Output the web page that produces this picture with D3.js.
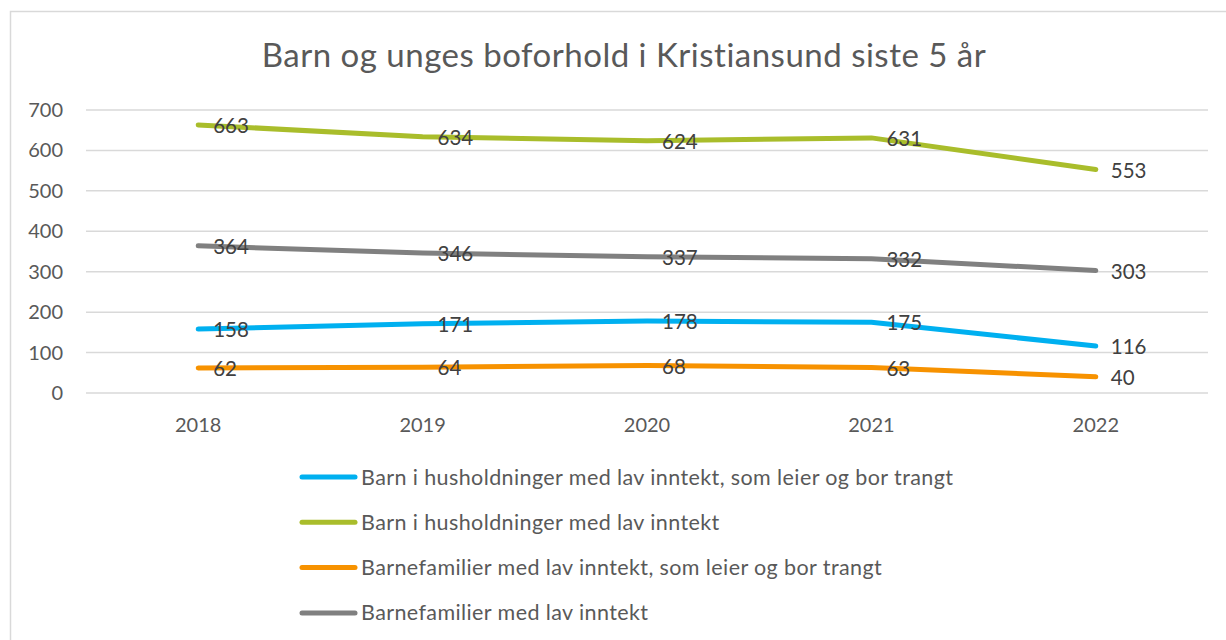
<!DOCTYPE html>
<html>
<head>
<meta charset="utf-8">
<script src="https://cdn.jsdelivr.net/npm/d3@7"></script>
<style>
  body { margin: 0; background: #fff; }
  svg { display: block; font-family: Lato, "Open Sans", sans-serif; }
  .grid line { stroke: #d9d9d9; stroke-width: 1.5; }
  .tick-label { fill: #595959; font-size: 20px; }
  .data-label { fill: #404040; font-size: 20.5px; }
  .legend-label { fill: #595959; font-size: 21.5px; letter-spacing: 0.4px; }
</style>
</head>
<body>
<div id="chart"></div>
<script>
const title = 'Barn og unges boforhold i Kristiansund siste 5 år';
const years = ['2018', '2019', '2020', '2021', '2022'];
const yTicks = [0, 100, 200, 300, 400, 500, 600, 700];

const seriesNames = [
  'Barn i husholdninger med lav inntekt, som leier og bor trangt',
  'Barn i husholdninger med lav inntekt',
  'Barnefamilier med lav inntekt, som leier og bor trangt',
  'Barnefamilier med lav inntekt'
];
const seriesColors = ['#00b0f0', '#a9bd2b', '#f79200', '#808080'];

const trangtBarn = [158, 171, 178, 175, 116];
const lavInntektBarn = [663, 634, 624, 631, 553];
const trangtFamilier = [62, 64, 68, 63, 40];
const lavInntektFamilier = [364, 346, 337, 332, 303];

const seriesValues = [trangtBarn, lavInntektBarn, trangtFamilier, lavInntektFamilier];

const width = 1226, height = 640;
const plot = { left: 86, right: 1208, top: 110, bottom: 393 };

const svg = d3.select('#chart').append('svg')
  .attr('width', width)
  .attr('height', height);

// chart frame (only top and left edges show in the crop)
svg.append('path')
  .attr('d', `M10.5 ${height} V11.5 H${width}`)
  .attr('fill', 'none')
  .attr('stroke', '#d9d9d9')
  .attr('stroke-width', 1.5);

svg.append('text')
  .attr('x', 624)
  .attr('y', 67)
  .attr('text-anchor', 'middle')
  .attr('fill', '#595959')
  .style('font-size', '33px')
  .style('letter-spacing', '0.5px')
  .text(title);

const x = d3.scaleBand().domain(years).range([plot.left, plot.right]);
const y = d3.scaleLinear().domain([0, 700]).range([plot.bottom, plot.top]);
const cx = (d) => x(d) + x.bandwidth() / 2;

svg.append('g')
  .attr('class', 'grid')
  .selectAll('line')
  .data(yTicks)
  .join('line')
  .attr('x1', plot.left)
  .attr('x2', plot.right)
  .attr('y1', (d) => y(d))
  .attr('y2', (d) => y(d));

svg.append('g')
  .selectAll('text')
  .data(yTicks)
  .join('text')
  .attr('class', 'tick-label')
  .attr('x', 63)
  .attr('y', (d) => y(d))
  .attr('dy', '0.35em')
  .attr('text-anchor', 'end')
  .text((d) => d);

svg.append('g')
  .selectAll('text')
  .data(years)
  .join('text')
  .attr('class', 'tick-label')
  .attr('x', (d) => cx(d))
  .attr('y', 432)
  .attr('text-anchor', 'middle')
  .text((d) => d);

const line = d3.line()
  .x((d, i) => cx(years[i]))
  .y((d) => y(d));

// draw order: blue, green, orange, gray
seriesValues.forEach((vals, s) => {
  svg.append('path')
    .datum(vals)
    .attr('d', line)
    .attr('fill', 'none')
    .attr('stroke', seriesColors[s])
    .attr('stroke-width', 5)
    .attr('stroke-linecap', 'round')
    .attr('stroke-linejoin', 'round');
});

seriesValues.forEach((vals) => {
  svg.append('g')
    .selectAll('text')
    .data(vals)
    .join('text')
    .attr('class', 'data-label')
    .attr('x', (d, i) => cx(years[i]) + 15)
    .attr('y', (d) => y(d) + 1)
    .attr('dy', '0.35em')
    .text((d) => d);
});

const legend = svg.append('g')
  .selectAll('g')
  .data(seriesNames)
  .join('g')
  .attr('transform', (d, i) => `translate(0 ${477 + i * 45.3})`);

legend.append('line')
  .attr('x1', 302)
  .attr('x2', 355)
  .attr('stroke', (d, i) => seriesColors[i])
  .attr('stroke-width', 5)
  .attr('stroke-linecap', 'round');

legend.append('text')
  .attr('class', 'legend-label')
  .attr('x', 361)
  .attr('dy', '0.35em')
  .text((d) => d);
</script>
</body>
</html>
